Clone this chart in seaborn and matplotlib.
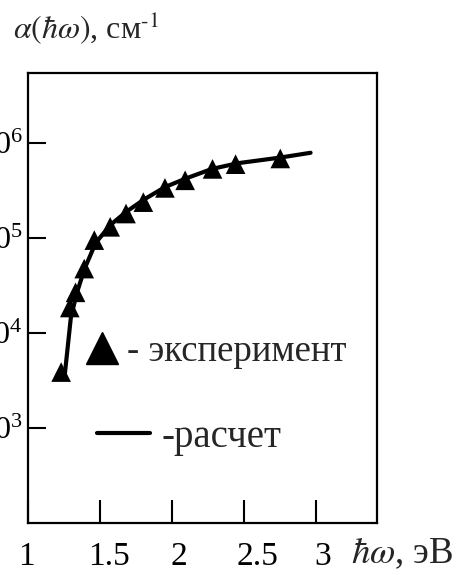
import matplotlib
matplotlib.use("Agg")
import matplotlib.pyplot as plt
import matplotlib.transforms as mtransforms
from matplotlib.lines import Line2D
import numpy as np
import pandas as pd
import seaborn as sns

# === DATA ===
exp_energy = [1.23, 1.29, 1.33, 1.39, 1.46, 1.57, 1.68, 1.80, 1.95, 2.09, 2.28, 2.44, 2.75]
exp_log_alpha = [3.59, 4.27, 4.43, 4.68, 4.98, 5.12, 5.26, 5.38, 5.53, 5.61, 5.73, 5.78, 5.84]

calc_energy = [1.255, 1.297, 1.338, 1.393, 1.469, 1.572, 1.683, 1.807, 1.952, 2.097, 2.276, 2.455, 2.752, 2.96]
calc_log_alpha = [3.56, 4.16, 4.42, 4.68, 4.95, 5.14, 5.28, 5.41, 5.54, 5.63, 5.73, 5.79, 5.85, 5.90]

x_ticks = [1, 1.5, 2, 2.5, 3]
x_tick_labels = ["1", "1.5", "2", "2.5", "3"]
y_ticks = [1e3, 1e4, 1e5, 1e6]

exp_df = pd.DataFrame({"E": exp_energy, "alpha": np.power(10.0, exp_log_alpha)})
calc_df = pd.DataFrame({"E": calc_energy, "alpha": np.power(10.0, calc_log_alpha)})

# small hand-placed shifts of the x tick labels (pixels), as in the original
X_LABEL_SHIFT_PX = [-2, 9, 7, 13, 6]

# === STYLE ===
sns.set_theme(style="ticks")
plt.rcParams["font.family"] = ["Liberation Serif", "DejaVu Serif"]
plt.rcParams["mathtext.fontset"] = "stix"

fig = plt.figure(figsize=(4.64, 5.75), dpi=100)
ax = fig.add_axes([0.0603, 0.0904, 0.752, 0.7826])

sns.lineplot(data=calc_df, x="E", y="alpha", ax=ax, color="black", linewidth=3.0,
             sort=False, estimator=None)
sns.scatterplot(data=exp_df, x="E", y="alpha", ax=ax, color="black", marker="^",
                s=200, edgecolor="none", zorder=3)

ax.set_yscale("log")
ax.set_xlim(1.0, 3.42)
ax.set_ylim(1e2, 10 ** 6.74)
ax.set_xticks(x_ticks)
ax.set_xticklabels(x_tick_labels)
ax.set_yticks(y_ticks)
ax.yaxis.set_minor_locator(matplotlib.ticker.NullLocator())

for s in ax.spines.values():
    s.set_linewidth(1.6)
    s.set_color("black")
ax.tick_params(axis="x", direction="in", length=16.5, width=1.5, pad=13, labelsize=24, colors="black")
ax.tick_params(axis="y", direction="in", length=13, width=1.5, pad=4, labelsize=23, colors="black")

for lbl, dx in zip(ax.get_xticklabels(), X_LABEL_SHIFT_PX):
    off = mtransforms.ScaledTranslation(dx / 100.0, 0, fig.dpi_scale_trans)
    lbl.set_transform(lbl.get_transform() + off)

# axis captions
ax.set_xlabel(r"$\hbar\omega$, эВ", fontsize=26.5)
ax.xaxis.set_label_coords(0.925, -0.067)
ax.xaxis.label.set_ha("left")
ax.xaxis.label.set_va("center")

ax.set_ylabel(r"$\alpha(\hbar\omega)$, см$^{\text{-1}}$", fontsize=23, rotation=0)
ax.yaxis.set_label_coords(-0.043, 1.10)
ax.yaxis.label.set_ha("left")
ax.yaxis.label.set_va("center")

# legend, drawn as two separate entries
leg1 = ax.legend(handles=[Line2D([], [], color="black", marker="^", linestyle="none", markersize=23)],
                 labels=["- эксперимент"], loc="center left", bbox_to_anchor=(0.170, 0.380),
                 frameon=False, borderpad=0, borderaxespad=0, handlelength=0.8,
                 handletextpad=0.27, fontsize=26.5)
ax.add_artist(leg1)
ax.legend(handles=[Line2D([], [], color="black", linewidth=3.0)],
          labels=["-расчет"], loc="center left", bbox_to_anchor=(0.198, 0.191),
          frameon=False, borderpad=0, borderaxespad=0, handlelength=1.36,
          handletextpad=0.3, fontsize=28)

fig.savefig("out.png", dpi=100)
